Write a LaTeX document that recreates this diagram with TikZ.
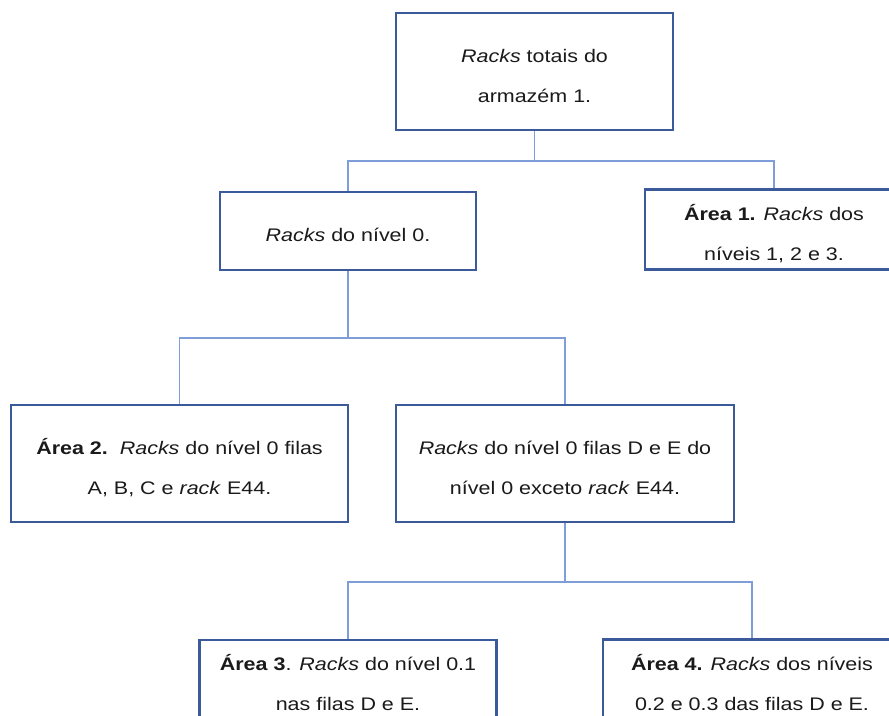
\documentclass[tikz,border=0pt]{standalone}
\usepackage{fontspec}
\setmainfont{Liberation Sans}[FakeStretch=1.18]
\newcommand{\boxlines}[1]{\raisebox{-2.5pt}[\height][\depth]{\begin{tabular}{@{}c@{}}#1\end{tabular}}}
\definecolor{boxblue}{HTML}{3A5A9A}
\definecolor{linkblue}{HTML}{7F9ED9}
\definecolor{inktext}{HTML}{1A1A1A}
\tikzset{
  areabox/.style={draw=boxblue, line width=2.6pt, fill=white, rectangle,
    inner sep=0pt, text=inktext, font=\fontsize{18.2}{40}\selectfont},
  link/.style={draw=linkblue, line width=1.6pt}
}
\begin{document}
\begin{tikzpicture}[x=1pt,y=-1pt]
  \useasboundingbox (0,0) rectangle (889,715);
  \clip (0,0) rectangle (889,715);

  % junction points of the tree
  \coordinate (j1) at (534.5,161);
  \coordinate (j2) at (348,338);
  \coordinate (j3) at (565,582);

  % boxes
  \node[areabox, minimum width=277pt, minimum height=117pt] (top) at (534.5,71.5)
    {\boxlines{\textit{Racks} totais do\\armazém 1.}};
  \node[areabox, minimum width=256pt, minimum height=78pt] (n0) at (348,231)
    {\boxlines{\textit{Racks} do nível 0.}};
  \node[areabox, minimum width=258pt, minimum height=79pt] (a1) at (774,229.5)
    {\boxlines{\textbf{Área 1.} \textit{Racks} dos\\níveis 1, 2 e 3.}};
  \node[areabox, minimum width=337pt, minimum height=117pt] (a2) at (179.5,463.5)
    {\boxlines{\textbf{Área 2.}\ \ \textit{Racks} do nível 0 filas\\A, B, C e \textit{rack} E44.}};
  \node[areabox, minimum width=338pt, minimum height=117pt] (mid) at (565,463.5)
    {\boxlines{\textit{Racks} do nível 0 filas D e E do\\nível 0 exceto \textit{rack} E44.}};
  \node[areabox, minimum width=297pt, minimum height=80pt] (a3) at (348,680)
    {\boxlines{\textbf{Área 3}. \textit{Racks} do nível 0.1\\nas filas D e E.}};
  \node[areabox, minimum width=298pt, minimum height=80pt] (a4) at (752,679.5)
    {\boxlines{\textbf{Área 4.} \textit{Racks} dos níveis\\0.2 e 0.3 das filas D e E.}};

  % connectors
  \begin{scope}[on background layer/.style={}]
    \draw[link] (top.south) -- (j1);
    \draw[link] (n0.north) |- (j1) -| (a1.north);
    \draw[link] (n0.south) -- (j2);
    \draw[link] (a2.north) |- (j2) -| (mid.north);
    \draw[link] (mid.south) -- (j3);
    \draw[link] (a3.north) |- (j3) -| (a4.north);
  \end{scope}
\end{tikzpicture}
\end{document}
